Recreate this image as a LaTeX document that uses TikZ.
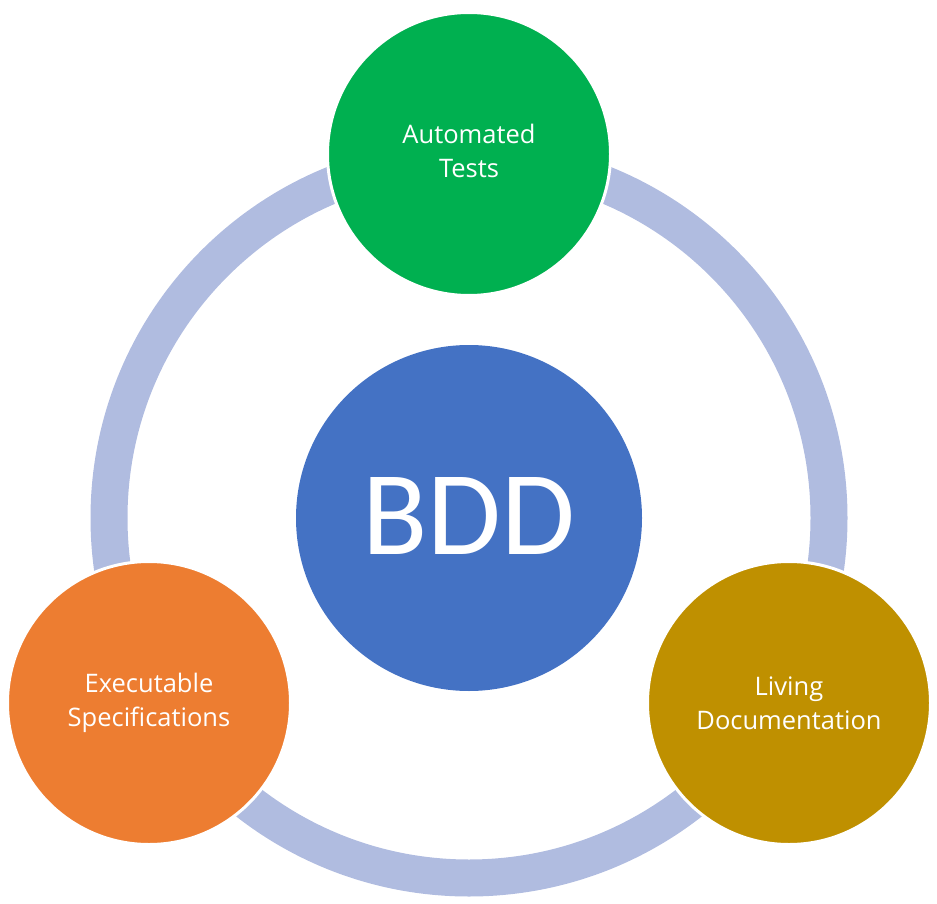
\documentclass[tikz,border=0pt]{standalone}
\usepackage{fontspec}
\setmainfont{Carlito}
\newfontfamily\labelfont{Open Sans}
\definecolor{ringc}{RGB}{176,188,224}
\definecolor{greenc}{RGB}{0,176,80}
\definecolor{orangec}{RGB}{237,125,49}
\definecolor{goldc}{RGB}{191,144,0}
\definecolor{bluec}{RGB}{68,114,196}
\begin{document}
\begin{tikzpicture}[x=1pt,y=-1pt,
  smallcirc/.style={circle, draw=white, line width=3pt, minimum size=283pt, inner sep=0pt,
    text=white, align=center, font=\labelfont\fontsize{25.5}{34}\selectfont},
  bigcirc/.style={circle, fill=bluec, minimum size=346pt, inner sep=0pt,
    text=white, font=\fontsize{120}{140}\selectfont}]
\useasboundingbox (0,0) rectangle (937,904);
\coordinate (c) at (469,518);
\draw[ringc, line width=37pt] (c) circle[radius=360];
\node[bigcirc] (bdd) at (c) {\raisebox{4pt}{BDD}};
\node[smallcirc, fill=greenc] (tests) at (469,154) {\raisebox{4pt}{\begin{tabular}{@{}c@{}}Automated\\Tests\end{tabular}}};
\node[smallcirc, fill=orangec] (spec) at (149,703) {Executable\\Specifications};
\node[smallcirc, fill=goldc] (doc) at (789,703) {Living\\Documentation};
\end{tikzpicture}
\end{document}
